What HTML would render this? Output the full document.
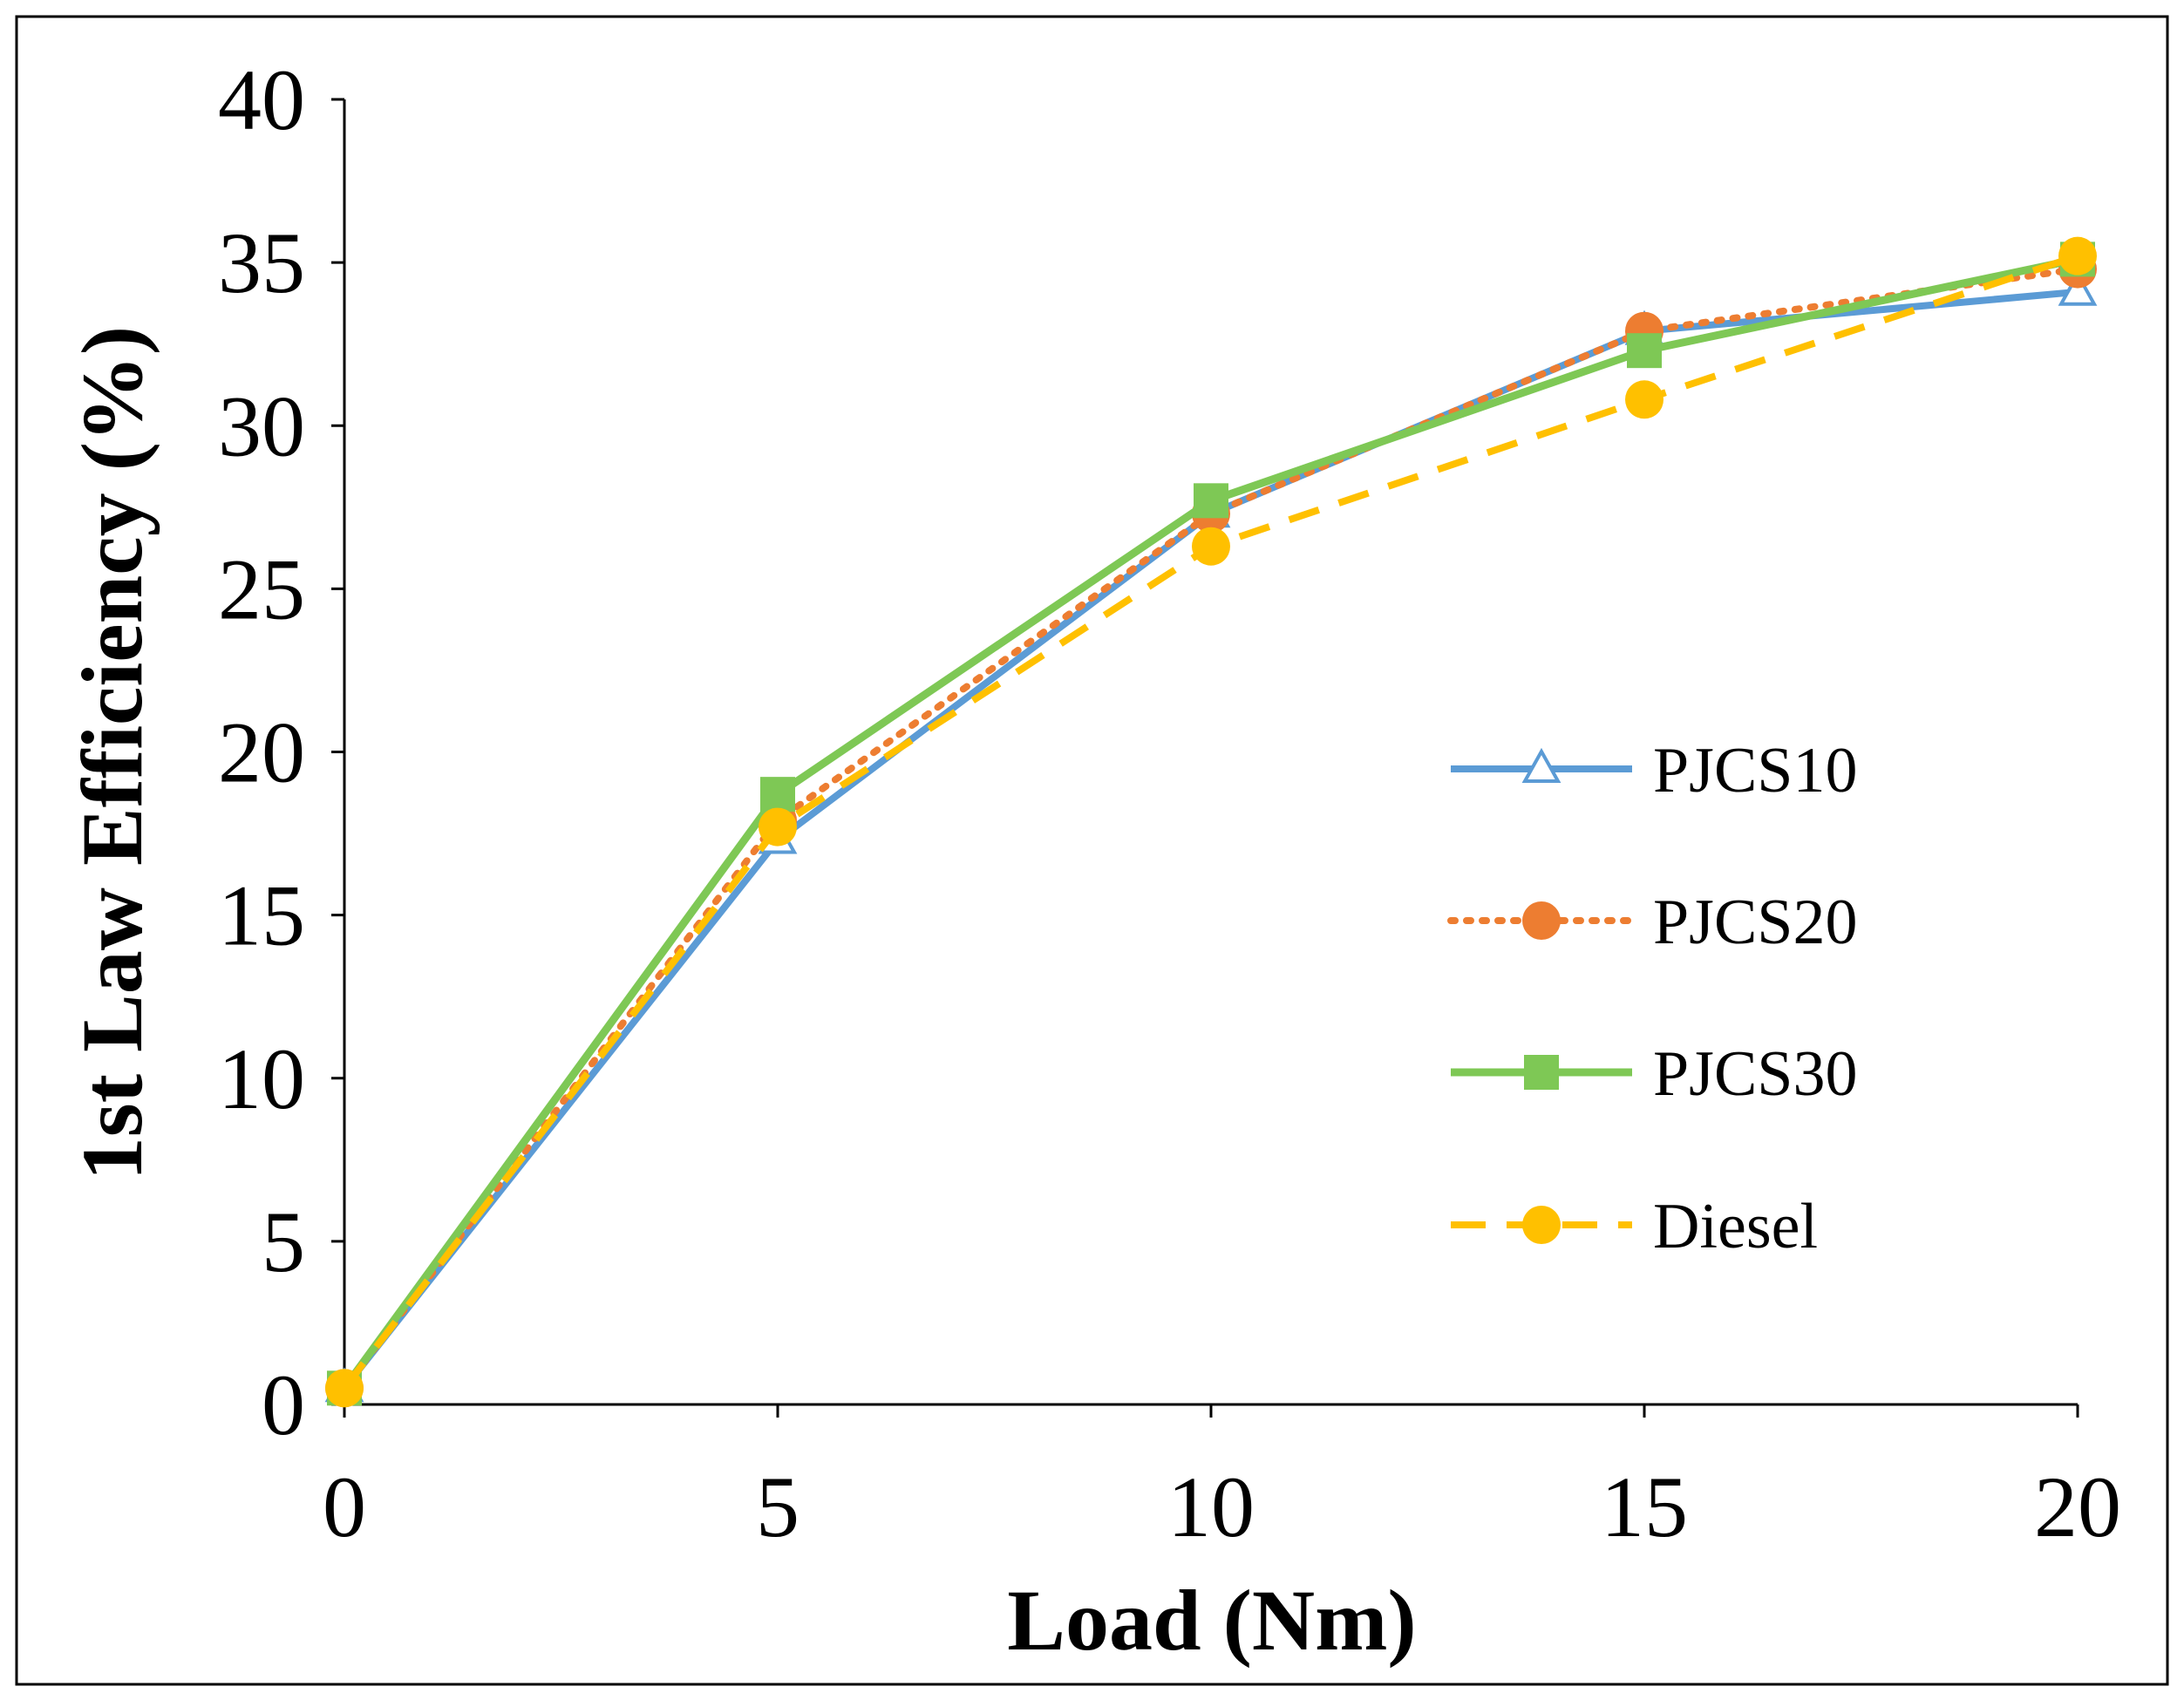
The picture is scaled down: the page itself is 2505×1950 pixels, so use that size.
<!DOCTYPE html>
<html><head><meta charset="utf-8"><style>
html,body{margin:0;padding:0;background:#fff}
svg{display:block;font-family:"Liberation Serif",serif}
</style></head><body>
<svg width="2505" height="1950" viewBox="0 0 2505 1950">
<rect x="19" y="19" width="2467" height="1913" fill="none" stroke="#000" stroke-width="3"/>
<g id="axes"></g><g id="series"></g><g id="legend"></g>
<text x="1390" y="1892" font-size="100" font-weight="bold" text-anchor="middle">Load (Nm)</text>
<text transform="translate(162,864) rotate(-90)" font-size="100" font-weight="bold" text-anchor="middle">1st Law Efficiency (%)</text>
</svg>
<script>
const xCats=[0,5,10,15,20];
const yTicks=[0,5,10,15,20,25,30,35,40];
const pjcs10=[0.5,17.3,27.3,32.9,34.1];
const pjcs20=[0.5,17.9,27.3,32.9,34.8];
const pjcs30=[0.5,18.7,27.7,32.3,35.1];
const diesel=[0.5,17.7,26.3,30.8,35.2];
const seriesNames=['PJCS10','PJCS20','PJCS30','Diesel'];
const NS='http://www.w3.org/2000/svg';
const X=v=>395+(v/20)*(2383-395);
const Y=v=>1611-(v/40)*(1611-114);
function mk(tag,attrs,parent){const e=document.createElementNS(NS,tag);for(const k in attrs)e.setAttribute(k,attrs[k]);parent.appendChild(e);return e;}
const ax=document.getElementById('axes');
let yl=mk('line',{x1:395,y1:114,x2:395,y2:1611,stroke:'#000','stroke-width':3},ax);


let xl=mk('line',{x1:395,y1:1611,x2:2383,y2:1611,stroke:'#000','stroke-width':3},ax);


yTicks.forEach(t=>{
 mk('line',{x1:380,y1:Y(t),x2:395,y2:Y(t),stroke:'#000','stroke-width':3},ax);
 const tx=mk('text',{x:350,y:Y(t)+34,'font-size':100,'text-anchor':'end'},ax);tx.textContent=t;
 
 
});
xCats.forEach(c=>{
 mk('line',{x1:X(c),y1:1611,x2:X(c),y2:1626,stroke:'#000','stroke-width':3},ax);
 const tx=mk('text',{x:X(c),y:1762,'font-size':100,'text-anchor':'middle'},ax);tx.textContent=c;
 
 
});
const styles=[
 {color:'#5b9bd5',dash:'',marker:'tri',w:8},
 {color:'#ed7d31',dash:'5 13',marker:'circ',w:8},
 {color:'#7ec855',dash:'',marker:'sq',w:9},
 {color:'#ffc000',dash:'36 24',marker:'circ',w:8}
];
const data=[pjcs10,pjcs20,pjcs30,diesel];
function marker(g,type,x,y,color){
 let m;
 if(type==='tri')m=mk('path',{d:`M${x},${y-20} L${x+19},${y+14} L${x-19},${y+14} Z`,fill:'#fff',stroke:color,'stroke-width':4},g);
 else if(type==='sq')m=mk('rect',{x:x-20,y:y-20,width:40,height:40,fill:color},g);
 else m=mk('circle',{cx:x,cy:y,r:22,fill:color},g);
 return m;
}
const sg=document.getElementById('series');
const order=[0,1,2,3];
order.forEach(i=>{
 const s=styles[i],vals=data[i];
 const g=mk('g',{},sg);
 
 
 const pts=vals.map((v,k)=>X(xCats[k])+','+Y(v)).join(' ');
 const pl=mk('polyline',{points:pts,fill:'none',stroke:s.color,'stroke-width':s.w,'stroke-dasharray':s.dash,'stroke-linecap':s.dash==='5 13'?'round':'butt','stroke-linejoin':'round'},g);
 
 
 vals.forEach((v,k)=>{const m=marker(g,s.marker,X(xCats[k]),Y(v),s.color);
  
  });
});
const lg=document.getElementById('legend');
const ly=[882,1056,1230,1405];
seriesNames.forEach((n,i)=>{
 const s=styles[i];
 const g=mk('g',{},lg);
 
 
 mk('line',{x1:1664,y1:ly[i],x2:1872,y2:ly[i],stroke:s.color,'stroke-width':s.w,'stroke-dasharray':s.dash==='36 24'?'40 24':s.dash,'stroke-linecap':s.dash==='5 13'?'round':'butt'},g);
 marker(g,s.marker,1768,ly[i],s.color);
 const t=mk('text',{x:1896,y:ly[i]+26,'font-size':74},g);t.textContent=n;
});
</script>
</body></html>
